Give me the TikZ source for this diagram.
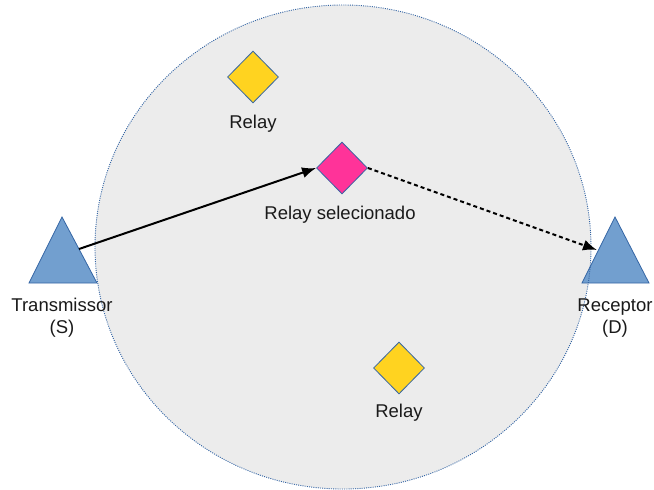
\documentclass[tikz,border=0pt]{standalone}
\usepackage{fontspec}
\setmainfont{Liberation Sans}
\usetikzlibrary{shapes.geometric,arrows.meta}
\definecolor{bgfill}{HTML}{ECECEC}
\definecolor{rimblue}{HTML}{3465A4}
\definecolor{trifill}{HTML}{729FCF}
\definecolor{relayyellow}{HTML}{FFD320}
\definecolor{relaypink}{HTML}{FF3399}
\definecolor{txt}{HTML}{1A1A1A}
\tikzset{
  relaybox/.style={diamond, draw=rimblue, line width=0.8pt, inner sep=0pt, minimum width=51pt, minimum height=52pt},
  tribox/.style={fill=trifill, draw=rimblue, line width=0.8pt, line join=miter},
  lbl/.style={text=txt, font=\fontsize{18.5pt}{22pt}\selectfont, align=center, inner sep=0pt},
  link/.style={line width=2pt, -{Latex[length=14pt,width=11pt]}},
}
\begin{document}
\begin{tikzpicture}[x=1pt,y=-1pt]
\useasboundingbox (0,0) rectangle (654,490);
% coverage area
\fill[bgfill] (343,247) ellipse [x radius=248, y radius=242];
% triangles
\draw[tribox] (62,217) -- (97,283) -- (29,283) -- cycle;
\draw[tribox] (615,217) -- (649,283) -- (582,283) -- cycle;
\draw[rimblue, line width=0.9pt, dash pattern=on 1pt off 1.2pt] (343,247) ellipse [x radius=248, y radius=242];
\coordinate (sout) at (79,249);
\coordinate (din) at (597,250);
% relays
\node[relaybox, fill=relayyellow] (r1) at (253,77) {};
\node[relaybox, fill=relaypink] (sel) at (342,168) {};
\node[relaybox, fill=relayyellow] (r2) at (399,368) {};
% labels
\node[lbl] (r1l) at (253,124) {Relay};
\node[lbl] (sell) at (340,215) {Relay selecionado};
\node[lbl] (r2l) at (399,413) {Relay};
\node[lbl] (sl) at (62,318) {Transmissor\\(S)};
\node[lbl] (dl) at (615,318) {Receptor\\(D)};
% links
\draw[link] (sout) -- (sel.west);
\draw[link, dash pattern=on 4pt off 3pt] (sel.east) -- (din);
\end{tikzpicture}
\end{document}
